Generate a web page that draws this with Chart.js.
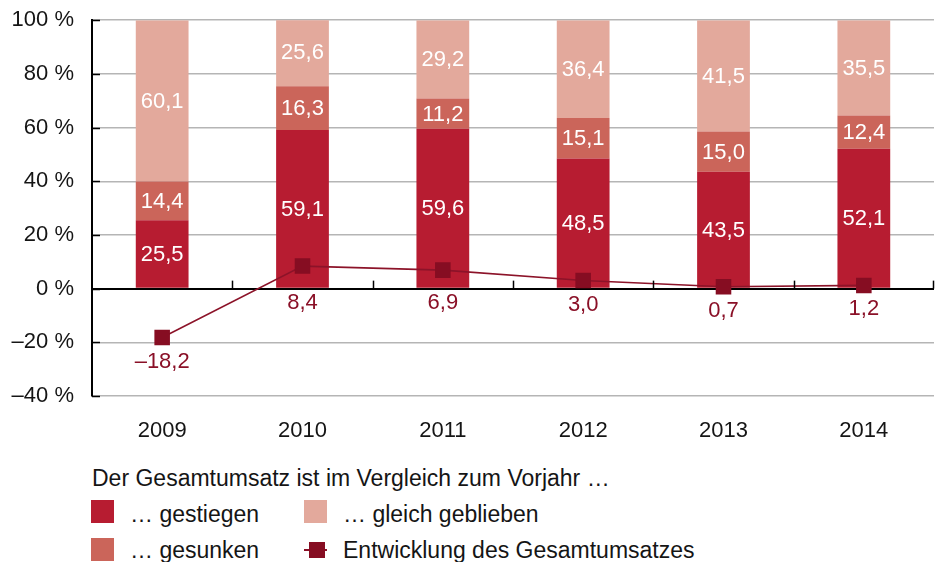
<!DOCTYPE html>
<html>
<head>
<meta charset="utf-8">
<script src="https://cdn.jsdelivr.net/npm/chart.js@4.4.1/dist/chart.umd.min.js"></script>
<style>
  html, body { margin: 0; padding: 0; background: #fff; }
  #wrap { position: relative; width: 945px; height: 562px; overflow: hidden; font-family: "Liberation Sans", Arial, sans-serif; color: #151515; }
  #chartBox { position: absolute; left: 0; top: -11px; width: 945px; height: 461px; }
  .lg { position: absolute; font-size: 23px; line-height: 26px; white-space: nowrap; }
  .sw { position: absolute; }
</style>
</head>
<body>
<div id="wrap">
  <div id="chartBox"><canvas id="c"></canvas></div>
  <div class="lg" style="left:92px; top:465px;">Der Gesamtumsatz ist im Vergleich zum Vorjahr …</div>
  <div class="sw" style="left:91px; top:500px; width:23px; height:23px; background:#b71c31;"></div>
  <div class="lg" style="left:130px; top:501px;">… gestiegen</div>
  <div class="sw" style="left:304px; top:500px; width:23px; height:23px; background:#e3a99c;"></div>
  <div class="lg" style="left:343px; top:501px;">… gleich geblieben</div>
  <div class="sw" style="left:91px; top:538px; width:23px; height:23px; background:#cb655a;"></div>
  <div class="lg" style="left:130px; top:537px;">… gesunken</div>
  <div class="sw" style="left:304px; top:549px; width:23px; height:2px; background:#8a1027;"></div>
  <div class="sw" style="left:309px; top:542px; width:16px; height:16px; background:#860d22;"></div>
  <div class="lg" style="left:343px; top:537px;">Entwicklung des Gesamtumsatzes</div>
</div>
<script>
const years = ['2009', '2010', '2011', '2012', '2013', '2014'];
const gestiegen = [25.5, 59.1, 59.6, 48.5, 43.5, 52.1];
const gesunken = [14.4, 16.3, 11.2, 15.1, 15.0, 12.4];
const gleichGeblieben = [60.1, 25.6, 29.2, 36.4, 41.5, 35.5];
const gesamtumsatz = [-18.2, 8.4, 6.9, 3.0, 0.7, 1.2];
const yMin = -40, yMax = 100, yStep = 20;

const FONT = '"Liberation Sans", Arial, sans-serif';
const fmt = v => (v < 0 ? '\u2013' : '') + Math.abs(v).toFixed(1).replace('.', ',');

const labelPlugin = {
  id: 'labelPlugin',
  afterDraw(chart) {
    const ctx = chart.ctx;
    const area = chart.chartArea;
    const y = chart.scales.y;
    const x = chart.scales.x;
    const zeroY = y.getPixelForValue(0);
    ctx.save();
    ctx.strokeStyle = '#000';
    ctx.lineWidth = 1.5;
    y.ticks.forEach(t => {
      const py = Math.round(y.getPixelForValue(t.value)) + 0.5;
      ctx.beginPath();
      ctx.moveTo(area.left, py);
      ctx.lineTo(area.left + 8, py);
      ctx.stroke();
    });
    const n = years.length;
    const step = x.getPixelForValue(1) - x.getPixelForValue(0);
    for (let i = 0; i < n; i++) {
      const px = x.getPixelForValue(i) + step / 2;
      const xx = Math.min(Math.round(px), area.right - 1) + 0.5;
      ctx.beginPath();
      ctx.moveTo(xx, zeroY);
      ctx.lineTo(xx, zeroY - 8);
      ctx.stroke();
    }
    ctx.font = '22px ' + FONT;
    ctx.textAlign = 'center';
    ctx.textBaseline = 'middle';
    [0, 1, 2].forEach(di => {
      const meta = chart.getDatasetMeta(di);
      const data = chart.data.datasets[di].data;
      ctx.fillStyle = '#ffffff';
      meta.data.forEach((el, i) => {
        ctx.fillText(fmt(data[i]), el.x, (el.y + el.base) / 2 + 1);
      });
    });
    const lm = chart.getDatasetMeta(3);
    const ld = chart.data.datasets[3].data;
    ctx.fillStyle = '#8a1027';
    lm.data.forEach((el, i) => {
      const ly = Math.max(el.y + 24, zeroY + 14);
      ctx.fillText(fmt(ld[i]), el.x, ly);
    });
    ctx.restore();
  }
};

new Chart(document.getElementById('c'), {
  data: {
    labels: years,
    datasets: [
      { type: 'bar', label: '… gestiegen', data: gestiegen, backgroundColor: '#b71c31', stack: 'bars', order: 2, barPercentage: 0.376, categoryPercentage: 1 },
      { type: 'bar', label: '… gesunken', data: gesunken, backgroundColor: '#cb655a', stack: 'bars', order: 2, barPercentage: 0.376, categoryPercentage: 1 },
      { type: 'bar', label: '… gleich geblieben', data: gleichGeblieben, backgroundColor: '#e3a99c', stack: 'bars', order: 2, barPercentage: 0.376, categoryPercentage: 1 },
      { type: 'line', label: 'Entwicklung des Gesamtumsatzes', data: gesamtumsatz, stack: 'line', order: 0,
        borderColor: '#8c1329', borderWidth: 1.6, pointStyle: 'rect', pointRadius: 11, pointHoverRadius: 11,
        pointBackgroundColor: '#860d22', pointBorderWidth: 0, tension: 0, fill: false }
    ]
  },
  options: {
    responsive: true,
    maintainAspectRatio: false,
    animation: false,
    devicePixelRatio: 1,
    layout: { padding: { top: 9, right: 7, left: 0, bottom: 0 } },
    plugins: { legend: { display: false }, tooltip: { enabled: false } },
    scales: {
      x: {
        stacked: true,
        grid: { display: false, drawTicks: false },
        border: { display: false },
        ticks: { color: '#151515', font: { family: FONT, size: 22 }, padding: 22 },
        afterFit: s => { s.height = 54; }
      },
      y: {
        stacked: true,
        min: yMin, max: yMax,
        border: { display: true, color: '#000', width: 2 },
        grid: {
          drawTicks: false,
          color: c => c.tick && c.tick.value === 0 ? '#000' : '#b5b5b5',
          lineWidth: c => c.tick && c.tick.value === 0 ? 2 : 1.5
        },
        ticks: {
          stepSize: yStep,
          color: '#151515',
          padding: 18,
          font: { family: FONT, size: 22 },
          callback: v => (v < 0 ? '\u2013' + Math.abs(v) : v) + ' %'
        },
        afterFit: s => { s.width = 92; }
      }
    }
  },
  plugins: [labelPlugin]
});
</script>
</body>
</html>
